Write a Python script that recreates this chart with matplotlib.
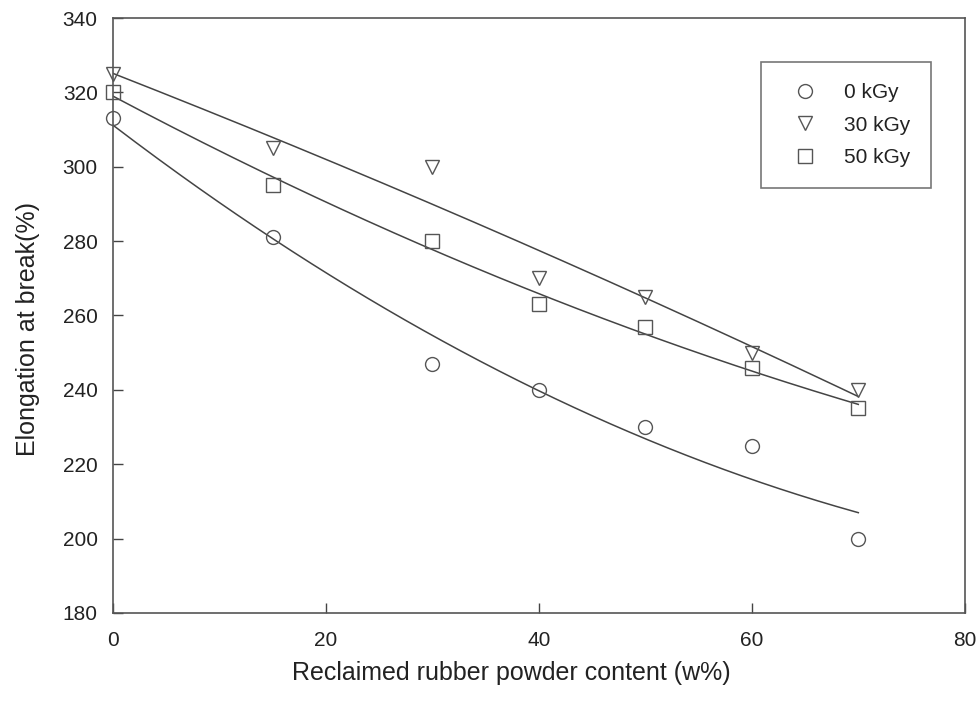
import numpy as np
import matplotlib
matplotlib.use("Agg")
import matplotlib.pyplot as plt
from matplotlib.lines import Line2D

plt.rcParams['font.family'] = ['Liberation Sans', 'DejaVu Sans']

content = [0, 15, 30, 40, 50, 60, 70]
elong_0kgy = [313, 281, 247, 240, 230, 225, 200]
elong_30kgy = [325, 305, 300, 270, 265, 250, 240]
elong_50kgy = [320, 295, 280, 263, 257, 246, 235]
labels = ['0 kGy', '30 kGy', '50 kGy']
markers = ['o', 'v', 's']

fig = plt.figure(figsize=(9.78, 7.07), dpi=100)
ax = fig.add_axes([0.1155, 0.133, 0.871, 0.8415])

edge = '#555555'
xs = np.linspace(0, 70, 200)
handles = []
for y, m, lab in zip([elong_0kgy, elong_30kgy, elong_50kgy], markers, labels):
    # second-order regression curve through each dose series
    coef = np.polyfit(content, y, 2)
    ax.plot(xs, np.polyval(coef, xs), color='#444444', lw=1.1, zorder=2)
    ax.plot(content, y, linestyle='none', marker=m, markersize=10,
            markerfacecolor='none', markeredgecolor=edge, markeredgewidth=1.0,
            zorder=3, clip_on=False)
    handles.append(Line2D([], [], linestyle='none', marker=m, markersize=10,
                          markerfacecolor='none', markeredgecolor=edge,
                          markeredgewidth=1.0, label=lab))

ax.set_xlim(0, 80)
ax.set_ylim(180, 340)
ax.set_xticks([0, 20, 40, 60, 80])
ax.set_yticks(np.arange(180, 341, 20))
ax.tick_params(direction='in', length=7, width=1, color='#444444',
               labelsize=15, labelcolor='#222222', top=False, right=False)
ax.tick_params(axis='x', pad=13)
ax.tick_params(axis='y', pad=11)
for s in ax.spines.values():
    s.set_color('#555555')
    s.set_linewidth(1.2)

ax.set_xlabel('Reclaimed rubber powder content (w%)', fontsize=18,
              color='#222222', va='center')
ax.xaxis.set_label_coords(0.468, -0.1008)
ax.set_ylabel('Elongation at break(%)', fontsize=18, color='#222222',
              va='center')
ax.yaxis.set_label_coords(-0.0998, 0.477)

leg = ax.legend(handles=handles, loc='upper left', bbox_to_anchor=(0.7606, 0.926),
                frameon=True, fancybox=False, fontsize=15, handlelength=2.2,
                handletextpad=0.78, borderpad=1.0, labelspacing=0.66,
                borderaxespad=0)
leg.get_frame().set_edgecolor('#555555')
leg.get_frame().set_linewidth(1.2)
for t in leg.get_texts():
    t.set_color('#222222')

fig.savefig('out.png', dpi=100)
